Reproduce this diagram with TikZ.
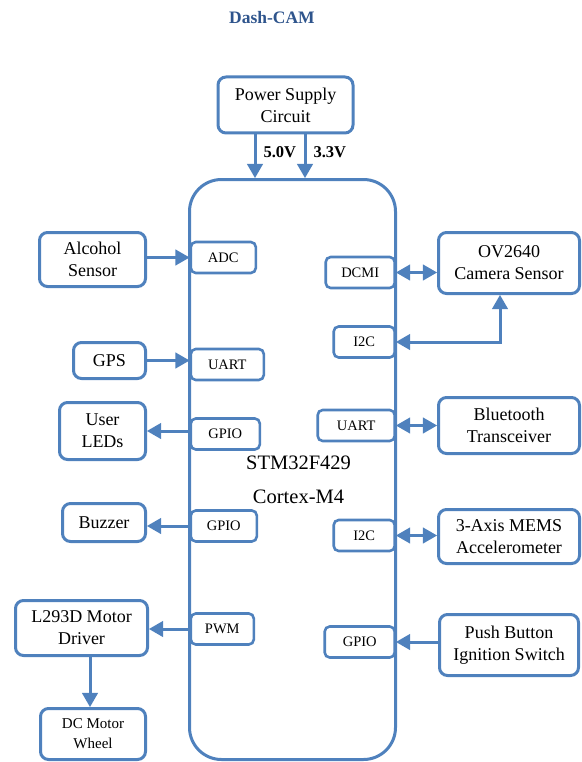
\documentclass[tikz,border=0pt]{standalone}
\usepackage{fontspec}
\setmainfont{Liberation Serif}
\usetikzlibrary{arrows}
\definecolor{boxblue}{RGB}{79,129,189}
\definecolor{titleblue}{RGB}{46,84,140}
\tikzset{%
  myedge/.style={->, >=triangle 60, line width=3pt, draw=boxblue},
  bothedge/.style={myedge, <->},
  devnode/.style={draw=boxblue, line width=3pt, rounded corners=8pt, align=center,
    inner sep=0pt, font=\fontsize{18}{22}\selectfont},
  portnode/.style={draw=boxblue, line width=2.6pt, rounded corners=5pt, fill=white,
    inner sep=0pt, minimum height=31pt, font=\fontsize{14.5}{17}\selectfont}
}
\begin{document}
\begin{tikzpicture}[x=1pt, y=-1pt]
  \useasboundingbox (0,0) rectangle (581,762);
  \node[font=\bfseries\fontsize{17.5}{20}\selectfont, text=titleblue] (title) at (272,18) {Dash-CAM};
  % power and controller
  \node[devnode, minimum width=135pt, minimum height=56pt] (power) at (285.5,105) {Power Supply\\Circuit};
  \node[draw=boxblue, line width=3pt, rounded corners=32pt, minimum width=206pt, minimum height=580pt] (mcu) at (292.5,469.5) {};
  \node[align=center, font=\fontsize{20.5}{34}\selectfont] (mcutext) at (298.5,480) {STM32F429\\Cortex-M4};
  \coordinate (v5) at (255,0);
  \coordinate (v3) at (305,0);
  \draw[myedge] (power.south -| v5) -- (v5 |- mcu.north);
  \draw[myedge] (power.south -| v3) -- (v3 |- mcu.north);
  \node[anchor=west, font=\bfseries\fontsize{16.5}{18}\selectfont] (lab5) at (260,152) {5.0V};
  \node[anchor=west, font=\bfseries\fontsize{16.5}{18}\selectfont] (lab3) at (310,152) {3.3V};
  % ports on the left
  \node[portnode, anchor=west, minimum width=65pt] (adc) at (189.5,257.5) {ADC};
  \node[portnode, anchor=west, minimum width=73pt] (uartL) at (189.5,364.5) {UART};
  \node[portnode, anchor=west, minimum width=69pt] (gpioA) at (189.5,434) {GPIO};
  \node[portnode, anchor=west, minimum width=66pt] (gpioB) at (189.5,526) {GPIO};
  \node[portnode, anchor=west, minimum width=63pt] (pwm) at (189.5,629) {PWM};
  % ports on the right
  \node[portnode, anchor=east, minimum width=69pt] (dcmi) at (396,272.5) {DCMI};
  \node[portnode, anchor=east, minimum width=61pt] (i2cA) at (396,342) {I2C};
  \node[portnode, anchor=east, minimum width=77pt] (uartR) at (396,425.5) {UART};
  \node[portnode, anchor=east, minimum width=61pt] (i2cB) at (396,535.5) {I2C};
  \node[portnode, anchor=east, minimum width=70pt] (gpioC) at (396,642) {GPIO};
  % devices on the left
  \node[devnode, minimum width=106pt, minimum height=54pt] (alcohol) at (92.5,259.5) {Alcohol\\Sensor};
  \node[devnode, minimum width=72pt, minimum height=36pt] (gps) at (109.5,360.5) {GPS};
  \node[devnode, minimum width=86pt, minimum height=57pt] (leds) at (102.5,431) {User\\LEDs};
  \node[devnode, minimum width=83pt, minimum height=38pt] (buzzer) at (104,522.5) {Buzzer};
  \node[devnode, minimum width=132pt, minimum height=55pt] (driver) at (81.5,628) {L293D Motor\\Driver};
  \node[devnode, minimum width=105pt, minimum height=51pt, font=\fontsize{15}{20}\selectfont] (motor) at (93,734) {DC Motor\\Wheel};
  % devices on the right
  \node[devnode, minimum width=141pt, minimum height=61pt] (cam) at (509,263) {OV2640\\Camera Sensor};
  \node[devnode, minimum width=141pt, minimum height=56pt] (bt) at (509,425.5) {Bluetooth\\Transceiver};
  \node[devnode, minimum width=141pt, minimum height=54pt] (mems) at (509,536.5) {3-Axis MEMS\\Accelerometer};
  \node[devnode, minimum width=139pt, minimum height=61pt] (push) at (509,645) {Push Button\\Ignition Switch};
  % connections
  \draw[myedge] (alcohol.east |- adc.west) -- (adc.west);
  \draw[myedge] (gps.east) -- (gps.east -| uartL.west);
  \draw[myedge] (gpioA.west |- leds.east) -- (leds.east);
  \draw[myedge] (gpioB.west) -- (gpioB.west -| buzzer.east);
  \draw[myedge] (pwm.west) -- (pwm.west -| driver.east);
  \draw[myedge] (driver.south -| 90,0) -- (motor.north -| 90,0);
  \draw[bothedge] (dcmi.east) -- (dcmi.east -| cam.west);
  \coordinate (camdrop) at (500,0);
  \draw[bothedge] (cam.south -| camdrop) |- (i2cA.east);
  \draw[bothedge] (uartR.east) -- (uartR.east -| bt.west);
  \draw[bothedge] (i2cB.east) -- (i2cB.east -| mems.west);
  \draw[myedge] (push.west |- gpioC.east) -- (gpioC.east);
\end{tikzpicture}
\end{document}
